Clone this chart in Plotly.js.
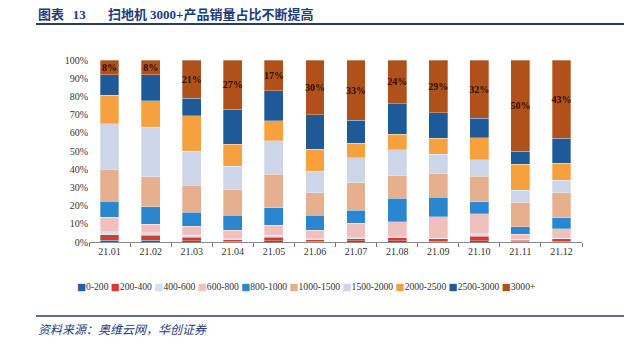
<!DOCTYPE html>
<html>
<head>
<meta charset="utf-8">
<script src="https://cdn.plot.ly/plotly-3.0.1.min.js"></script>
<style>html,body{margin:0;padding:0;background:#fff;}#chart{width:640px;height:346px;}</style>
</head>
<body>
<div id="chart"></div>
<script>
// Categories (months)
const months = ["21.01","21.02","21.03","21.04","21.05","21.06","21.07","21.08","21.09","21.10","21.11","21.12"];
// Price bands (legend order, bottom to top)
const bands = ["0-200","200-400","400-600","600-800","800-1000","1000-1500","1500-2000","2000-2500","2500-3000","3000+"];
// Y tick labels
const yTickVals = [0,10,20,30,40,50,60,70,80,90,100];
const yTickText = ["0%","10%","20%","30%","40%","50%","60%","70%","80%","90%","100%"];
// Share of sales (%) for each price band
const s0_200     = [1.0, 0.9, 0.7, 0.4, 0.6, 0.4, 0.6, 0.6, 0.5, 0.7, 0.4, 0.5];
const s200_400   = [3.0, 2.8, 1.8, 0.9, 2.0, 0.9, 1.3, 1.7, 1.3, 2.4, 0.6, 1.3];
const s400_600   = [1.5, 1.5, 1.1, 0.6, 1.1, 0.6, 0.4, 0.6, 0.4, 1.5, 0.4, 0.4];
const s600_800   = [8.0, 4.6, 5.1, 4.6, 5.5, 4.6, 7.9, 8.3, 11.7, 11.0, 2.9, 5.1];
const s800_1000  = [9.0, 9.5, 7.7, 8.3, 9.5, 8.3, 7.3, 12.8, 10.6, 6.4, 4.0, 5.9];
const s1000_1500 = [17.5, 16.5, 14.7, 14.1, 18.5, 12.3, 15.0, 12.3, 13.2, 14.1, 13.4, 13.8];
const s1500_2000 = [25.0, 27.2, 18.7, 12.8, 18.3, 11.9, 13.8, 14.3, 10.6, 9.2, 6.8, 7.0];
const s2000_2500 = [15.5, 14.7, 19.5, 11.9, 11.2, 12.1, 7.9, 8.6, 8.6, 11.9, 14.1, 9.2];
const s2500_3000 = [11.5, 14.3, 9.7, 19.4, 16.3, 18.9, 12.8, 16.8, 14.1, 10.8, 7.4, 13.8];
const s3000p     = [8, 8, 21, 27, 17, 30, 33, 24, 29, 32, 50, 43];

const series = [s0_200, s200_400, s400_600, s600_800, s800_1000, s1000_1500, s1500_2000, s2000_2500, s2500_3000, s3000p];
const colors = ["#1f5fae","#d93a2e","#cfe0f0","#efc0bd","#2a86cf","#e6b08e","#ccd6e8","#f6a03e","#1f5a98","#b0511c"];

const SERIF = "Liberation Serif, Times New Roman, serif";

const traces = series.map((vals, i) => {
  const t = {
    type: "bar",
    name: bands[i],
    x: months,
    y: vals,
    marker: {color: colors[i], line: {color: "rgba(255,255,255,0.6)", width: 0.5}},
    showlegend: false,
    hoverinfo: "x+y+name"
  };
  if (bands[i] === "3000+") {
    t.text = vals.map(v => v + "%");
    t.textposition = "inside";
    t.insidetextanchor = "middle";
    t.textangle = 0;
    t.constraintext = "none";
    t.textfont = {family: SERIF, size: 10, color: "#2a1208", weight: "bold"};
  } else {
    t.textposition = "none";
  }
  return t;
});

// pixel -> paper helpers (plot area 89..582 x, 60..242 y)
const L = 89, R = 582, T = 60, B = 242;
const px = x => (x - L) / (R - L);
const py = y => (B - y) / (B - T);

const legendText = bands.map((b, i) =>
  '<span style="color:' + colors[i] + ';font-family:DejaVu Sans">■</span>' + b).join("&nbsp;");

const layout = {
  width: 640, height: 346,
  margin: {l: L, r: 640 - R, t: T, b: 346 - B},
  paper_bgcolor: "#fff", plot_bgcolor: "#fff",
  barmode: "stack",
  bargap: 0.54,
  showlegend: false,
  font: {family: SERIF, size: 10, color: "#333"},
  xaxis: {
    type: "category",
    showline: true, linecolor: "#8a8a8a", linewidth: 1,
    ticks: "outside", tickson: "boundaries", ticklen: 4, tickcolor: "#777",
    showgrid: false, zeroline: false,
    tickfont: {family: SERIF, size: 10, color: "#333"}
  },
  yaxis: {
    range: [0, 100],
    tickmode: "array",
    tickvals: yTickVals,
    ticktext: yTickText,
    showgrid: false, zeroline: false, showline: false, ticks: "",
    tickfont: {family: SERIF, size: 10, color: "#333"}
  },
  shapes: [
    {type: "line", xref: "paper", yref: "paper", x0: px(36), x1: px(624), y0: py(24), y1: py(24),
     line: {color: "#2c3d5c", width: 2}},
    {type: "line", xref: "paper", yref: "paper", x0: px(36), x1: px(624), y0: py(316), y1: py(316),
     line: {color: "#2c3d5c", width: 1.5}}
  ],
  annotations: [
    {xref: "paper", yref: "paper", x: px(36), y: py(13), xanchor: "left", yanchor: "middle", showarrow: false,
     text: '<b>图表&nbsp;&nbsp;&nbsp;<span style="font-family:Liberation Serif">13</span></b>',
     font: {family: "Noto Sans CJK SC", size: 13, color: "#1d3c7c"}},
    {xref: "paper", yref: "paper", x: px(106), y: py(13), xanchor: "left", yanchor: "middle", showarrow: false,
     text: '<b>扫地机 <span style="font-family:Liberation Serif">3000+</span>产品销量占比不断提高</b>',
     font: {family: "Noto Sans CJK SC", size: 13, color: "#1d3c7c"}},
    {xref: "paper", yref: "paper", x: px(306), y: py(286), xanchor: "center", yanchor: "middle", showarrow: false,
     text: legendText, font: {family: SERIF, size: 9.6, color: "#333"}},
    {xref: "paper", yref: "paper", x: px(36), y: py(328), xanchor: "left", yanchor: "middle", showarrow: false,
     text: "<i>资料来源：奥维云网，华创证券</i>", font: {family: "Noto Sans CJK SC", size: 12, color: "#1d3c7c"}}
  ]
};

Plotly.newPlot("chart", traces, layout, {displayModeBar: false, staticPlot: true});
</script>
</body>
</html>
